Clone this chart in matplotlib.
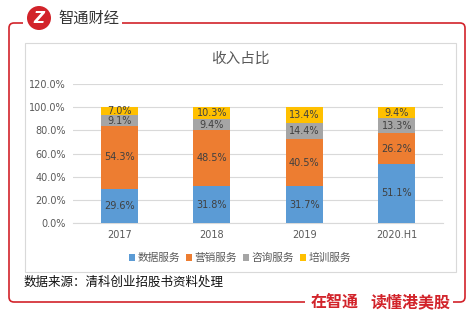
import matplotlib
matplotlib.use('Agg')
from matplotlib import pyplot as plt
from matplotlib.path import Path
from matplotlib.patches import PathPatch, Circle, Rectangle
import numpy as np

plt.rcParams['font.family'] = ['DejaVu Sans', 'Noto Sans CJK SC']

years = ['2017', '2018', '2019', '2020.H1']
series_names = ['数据服务', '营销服务', '咨询服务', '培训服务']
data_service = [29.6, 31.8, 31.7, 51.1]
marketing_service = [54.3, 48.5, 40.5, 26.2]
consulting_service = [9.1, 9.4, 14.4, 13.3]
training_service = [7.0, 10.3, 13.4, 9.4]
colors = ['#5B9BD5', '#ED7D31', '#A5A5A5', '#FFC000']
y_ticks = [0, 20, 40, 60, 80, 100, 120]

W, H = 476, 324
RED = '#D2232A'
CJK = ['Noto Sans CJK SC', 'DejaVu Sans']

fig = plt.figure(figsize=(W / 100, H / 100), dpi=100)

# page layer in pixel coordinates
bg = fig.add_axes([0, 0, 1, 1])
bg.set_xlim(0, W)
bg.set_ylim(H, 0)
bg.axis('off')

# red frame with rounded corners, broken by the logo and the slogan
r = 5
left = Path([(23, 23), (9 + r, 23), (9, 23), (9, 23 + r), (9, 302 - r), (9, 302), (9 + r, 302), (305, 302)],
            [Path.MOVETO, Path.LINETO, Path.CURVE3, Path.CURVE3, Path.LINETO, Path.CURVE3, Path.CURVE3, Path.LINETO])
right = Path([(122, 23), (465 - r, 23), (465, 23), (465, 23 + r), (465, 302 - r), (465, 302), (465 - r, 302), (453, 302)],
             [Path.MOVETO, Path.LINETO, Path.CURVE3, Path.CURVE3, Path.LINETO, Path.CURVE3, Path.CURVE3, Path.LINETO])
for p in (left, right):
    bg.add_patch(PathPatch(p, fc='none', ec=RED, lw=1.2))

# logo
bg.add_patch(Circle((39, 18), 12, fc=RED, ec='none'))
bg.text(39, 18.5, 'Z', color='white', fontsize=11, fontweight='bold', style='italic',
        ha='center', va='center')
bg.text(58, 18, '智通财经', family=CJK, fontsize=11, color='#333333', ha='left', va='center')

# slogan
bg.text(311, 302, '在智通', family=CJK, fontsize=11.5, fontweight='bold', color=RED,
        ha='left', va='center')
bg.text(450, 302, '读懂港美股', family=CJK, fontsize=11.5, fontweight='bold', color=RED,
        ha='right', va='center')

# inner chart box
bg.add_patch(Rectangle((25, 43), 431, 229, fc='white', ec='#D9D9D9', lw=0.8))
bg.text(240, 59, '收入占比', family=CJK, fontsize=10.5, color='#595959', ha='center', va='center')

bg.text(24, 282, '数据来源：清科创业招股书资料处理', family=CJK, fontsize=9, color='#111111',
        ha='left', va='center')

# stacked bars
ax = fig.add_axes([73 / W, 1 - 223 / H, 370 / W, 139 / H])
x = np.arange(len(years))
stack = [data_service, marketing_service, consulting_service, training_service]
bottom = np.zeros(len(years))
handles = []
for name, vals, c in zip(series_names, stack, colors):
    bars = ax.bar(x, vals, 0.4, bottom=bottom, color=c, label=name, zorder=3)
    handles.append(bars)
    for xi, b, v in zip(x, bottom, vals):
        ax.text(xi, b + v / 2, f'{v:.1f}%', ha='center', va='center', fontsize=7, color='#404040', zorder=4)
    bottom += np.array(vals)

ax.set_xlim(-0.5, 3.5)
ax.set_ylim(0, 120)
ax.set_yticks(y_ticks)
ax.set_yticklabels([f'{t:.1f}%' for t in y_ticks])
ax.set_xticks(x)
ax.set_xticklabels(years)
ax.tick_params(length=0, labelsize=7, labelcolor='#595959', pad=5)
ax.grid(axis='y', color='#D9D9D9', lw=0.8, zorder=0)
for s in ['top', 'right', 'left']:
    ax.spines[s].set_visible(False)
ax.spines['bottom'].set_color('#D9D9D9')
ax.patch.set_alpha(0)

leg = fig.legend(handles=handles, labels=series_names, loc='center', bbox_to_anchor=(240 / W, 1 - 258 / H),
                 ncol=4, frameon=False, handlelength=0.55, handleheight=0.55, handletextpad=0.25,
                 columnspacing=0.55, prop={'family': CJK, 'size': 7.7})
for t in leg.get_texts():
    t.set_color('#595959')

fig.savefig('out.png', dpi=100)
